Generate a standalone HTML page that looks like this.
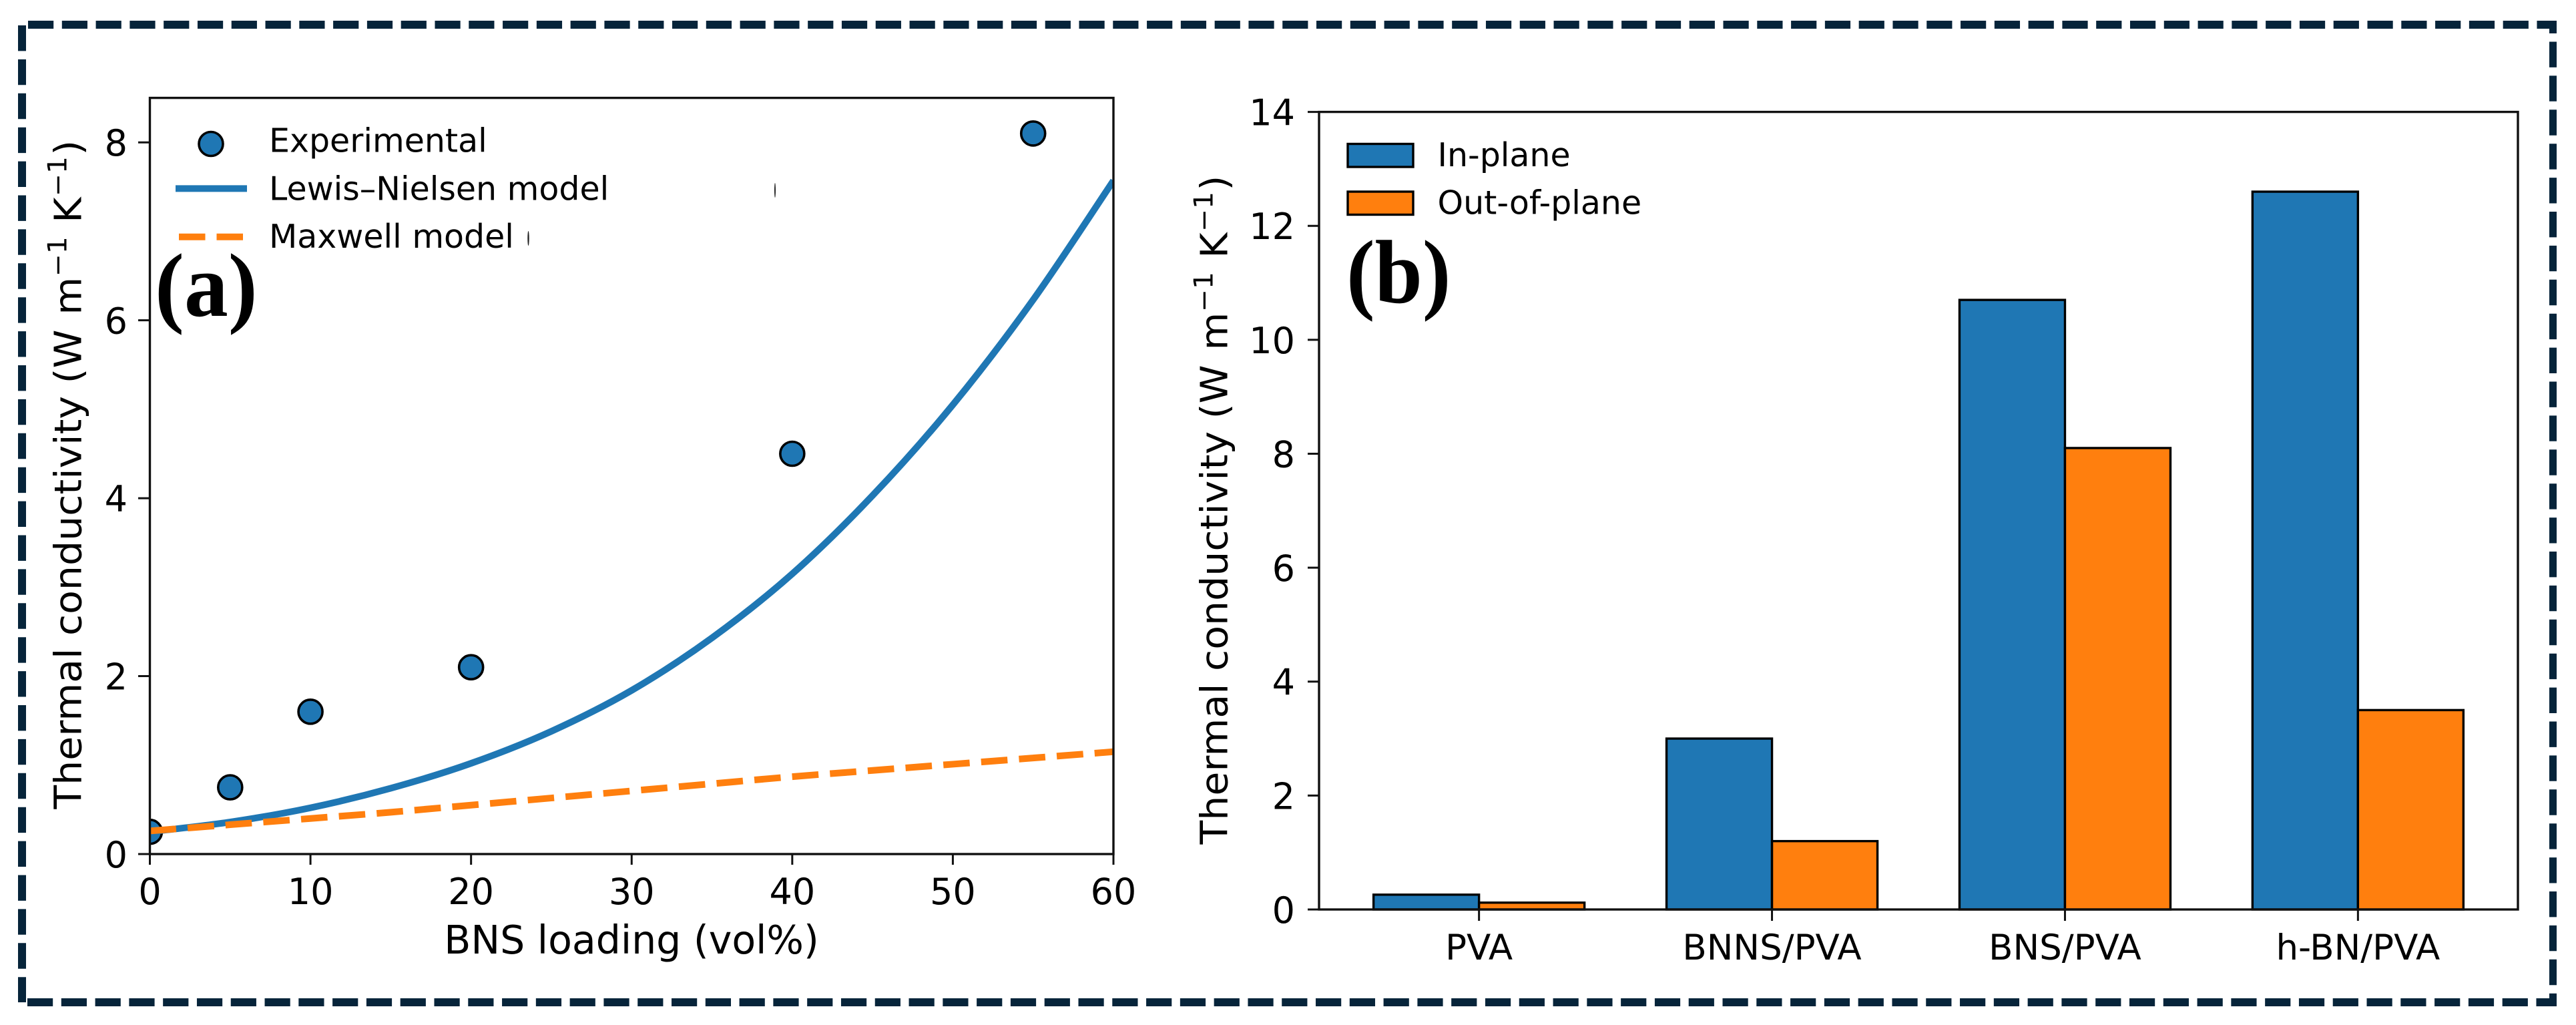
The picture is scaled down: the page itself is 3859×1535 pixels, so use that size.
<!DOCTYPE html>
<html>
<head>
<meta charset="utf-8">
<title>Thermal conductivity charts</title>
<style>
html,body{margin:0;padding:0;background:#fff;}
body{width:3859px;height:1535px;overflow:hidden;}
svg{display:block;}
text{font-family:"DejaVu Sans","Liberation Sans",sans-serif;fill:#000;}
text.panel{font-family:"Liberation Serif","Times New Roman",serif;font-weight:bold;font-size:128px;}
</style>
</head>
<body>
<svg id="root" xmlns="http://www.w3.org/2000/svg" width="3859" height="1535" viewBox="0 0 3859 1535">
  <rect x="0" y="0" width="3859" height="1535" fill="#ffffff"/>
  <g stroke="#06243a" fill="none" stroke-width="12">
    <line x1="42" y1="37" x2="3830" y2="37" stroke-dasharray="38.2 12.59"/>
    <line x1="41" y1="1501" x2="3830" y2="1501" stroke-dasharray="38.2 12.59"/>
    <line x1="33" y1="38" x2="33" y2="1501" stroke-dasharray="38.4 12.5"/>
    <line x1="3824.5" y1="31" x2="3824.5" y2="1507" stroke-width="11" stroke-dasharray="38.4 12.5" stroke-dashoffset="19.4"/>
    <line x1="3824.5" y1="1489" x2="3824.5" y2="1507" stroke-width="11"/>
  </g>
  <defs>
    <clipPath id="clip-a"><rect x="224.5" y="146.6" width="1443.5" height="1132.4"/></clipPath>
  </defs>
  <g id="chart-a"></g>
  <g id="chart-b"></g>

  <text class="panel" transform="translate(232,473) scale(1.03,1.055)">(a)</text>
  <text class="panel" transform="translate(2017,453) scale(1.0,1.055)">(b)</text>

  <text x="946" y="1428" font-size="58.5" text-anchor="middle">BNS loading (vol%)</text>

  <text transform="translate(121.7,1211.6) rotate(-90) scale(1.045,1)" font-size="56">Thermal conductivity (W<tspan x="708">m</tspan><tspan x="763" y="-22" font-size="39">−1</tspan><tspan x="840" y="0">K</tspan><tspan x="878" y="-22" font-size="39">−1</tspan><tspan x="936.8" y="0">)</tspan></text>
  <text transform="translate(1838.6,1264.5) rotate(-90) scale(1.045,1)" font-size="56">Thermal conductivity (W<tspan x="708">m</tspan><tspan x="763" y="-22" font-size="39">−1</tspan><tspan x="840" y="0">K</tspan><tspan x="878" y="-22" font-size="39">−1</tspan><tspan x="936.8" y="0">)</tspan></text>

  <g>
    <g>
      <circle cx="316" cy="215.5" r="18" fill="#1f77b4" stroke="#000" stroke-width="3.6"/>
      <text x="403" y="227.7" font-size="49">Experimental</text>
    </g>
    <g>
      <line x1="263" y1="282.4" x2="370" y2="282.4" stroke="#1f77b4" stroke-width="10"/>
      <text x="403" y="299.6" font-size="49">Lewis–Nielsen model</text>
    </g>
    <g>
      <line x1="268" y1="354.8" x2="364" y2="354.8" stroke="#ff7f0e" stroke-width="10" stroke-dasharray="39.5 17"/>
      <text x="403" y="371" font-size="49">Maxwell model</text>
    </g>
    <ellipse cx="791.5" cy="357" rx="1.2" ry="11" fill="#222"/>
    <ellipse cx="1161" cy="285" rx="1" ry="11" fill="#222"/>
  </g>

  <g>
    <g>
      <rect x="2019" y="215.5" width="98" height="34.5" fill="#1f77b4" stroke="#000" stroke-width="3.4"/>
      <text x="2153.5" y="248.8" font-size="49">In-plane</text>
    </g>
    <g>
      <rect x="2019" y="287" width="98" height="34.5" fill="#ff7f0e" stroke="#000" stroke-width="3.4"/>
      <text x="2153.5" y="320.7" font-size="49">Out-of-plane</text>
    </g>
  </g>
</svg>
<script>
// Panel (a) data
var xTicksA = [0, 10, 20, 30, 40, 50, 60];
var yTicksA = [0, 2, 4, 6, 8];
var expLoading = [0, 5, 10, 20, 40, 55];
var expConductivity = [0.25, 0.75, 1.6, 2.1, 4.5, 8.1];
var modelLoading = [0, 5, 10, 15, 20, 25, 30, 35, 40, 45, 50, 55, 60];
var lewisNielsen = [0.25, 0.36, 0.52, 0.74, 1.02, 1.38, 1.84, 2.43, 3.15, 4.03, 5.05, 6.23, 7.57];
var maxwell = [0.26, 0.33, 0.40, 0.47, 0.55, 0.63, 0.71, 0.79, 0.87, 0.94, 1.01, 1.08, 1.15];

// Panel (b) data
var categories = ['PVA', 'BNNS/PVA', 'BNS/PVA', 'h-BN/PVA'];
var inPlane = [0.26, 3.0, 10.7, 12.6];
var outOfPlane = [0.12, 1.2, 8.1, 3.5];
var yTicksB = [0, 2, 4, 6, 8, 10, 12, 14];

var SVGNS = 'http://www.w3.org/2000/svg';
function mk(parent, tag, attrs) {
  var el = document.createElementNS(SVGNS, tag);
  for (var k in attrs) { el.setAttribute(k, attrs[k]); }
  parent.appendChild(el);
  return el;
}

// Axis functions
function xA(v) { return 224.5 + (v - 0) / 60 * 1443.5; }
function yA(v) { return 1279 - v / 8.5 * 1132.4; }
function xB(v) { return 1976 + (v + 0.546) / 4.092 * 1796; }
function yB(v) { return 1362 - v / 14 * 1194.4; }

function smoothPath(xs, ys) {
  var d = 'M' + xs[0].toFixed(2) + ' ' + ys[0].toFixed(2);
  for (var i = 0; i < xs.length - 1; i++) {
    var i0 = Math.max(i - 1, 0), i3 = Math.min(i + 2, xs.length - 1);
    var c1x = xs[i] + (xs[i + 1] - xs[i0]) / 6, c1y = ys[i] + (ys[i + 1] - ys[i0]) / 6;
    var c2x = xs[i + 1] - (xs[i3] - xs[i]) / 6, c2y = ys[i + 1] - (ys[i3] - ys[i]) / 6;
    d += 'C' + c1x.toFixed(2) + ' ' + c1y.toFixed(2) + ' ' + c2x.toFixed(2) + ' ' + c2y.toFixed(2) + ' ' + xs[i + 1].toFixed(2) + ' ' + ys[i + 1].toFixed(2);
  }
  return d;
}

// ---------- Panel A ----------
var gA = document.getElementById('chart-a');
var plotA = mk(gA, 'g', {'clip-path': 'url(#clip-a)'});



expLoading.forEach(function (x, i) {
  var c = mk(plotA, 'circle', {cx: xA(x), cy: yA(expConductivity[i]), r: 18, fill: '#1f77b4', stroke: '#000', 'stroke-width': 3.6});
  
  
});

var lnPath = mk(plotA, 'path', {d: smoothPath(modelLoading.map(xA), lewisNielsen.map(yA)), fill: 'none', stroke: '#1f77b4', 'stroke-width': 10});



var mxPath = mk(plotA, 'path', {d: smoothPath(modelLoading.map(xA), maxwell.map(yA)), fill: 'none', stroke: '#ff7f0e', 'stroke-width': 10, 'stroke-dasharray': '39.6 17.2'});



var frameA = mk(gA, 'rect', {x: 224.5, y: 146.6, width: 1443.5, height: 1132.4, fill: 'none', stroke: '#111', 'stroke-width': 3.4});



xTicksA.forEach(function (v) {
  var t = mk(gA, 'line', {x1: xA(v), x2: xA(v), y1: 1279, y2: 1295, stroke: '#111', 'stroke-width': 3});
  
  
  var l = mk(gA, 'text', {x: xA(v), y: 1354, 'font-size': 54, 'text-anchor': 'middle'});
  l.textContent = v;
  
  
});
yTicksA.forEach(function (v) {
  var t = mk(gA, 'line', {x1: 207, x2: 224.5, y1: yA(v), y2: yA(v), stroke: '#111', 'stroke-width': 3});
  
  
  var l = mk(gA, 'text', {x: 191, y: yA(v) + 20, 'font-size': 54, 'text-anchor': 'end'});
  l.textContent = v;
  
  
});

// ---------- Panel B ----------
var gB = document.getElementById('chart-b');
var barWidth = 0.36;
categories.forEach(function (c, i) {
  var r1 = mk(gB, 'rect', {x: xB(i - barWidth), y: yB(inPlane[i]), width: xB(i) - xB(i - barWidth), height: yB(0) - yB(inPlane[i]), fill: '#1f77b4', stroke: '#000', 'stroke-width': 3.4});
  
  
  var r2 = mk(gB, 'rect', {x: xB(i), y: yB(outOfPlane[i]), width: xB(i + barWidth) - xB(i), height: yB(0) - yB(outOfPlane[i]), fill: '#ff7f0e', stroke: '#000', 'stroke-width': 3.4});
  
  
  var t = mk(gB, 'line', {x1: xB(i), x2: xB(i), y1: 1362, y2: 1379, stroke: '#111', 'stroke-width': 3});
  
  
  var l = mk(gB, 'text', {x: xB(i), y: 1437, 'font-size': 53, 'text-anchor': 'middle'});
  l.textContent = c;
  
  
});

var frameB = mk(gB, 'rect', {x: 1976, y: 167.6, width: 1796, height: 1194.4, fill: 'none', stroke: '#111', 'stroke-width': 3.4});



yTicksB.forEach(function (v) {
  var t = mk(gB, 'line', {x1: 1959, x2: 1976, y1: yB(v), y2: yB(v), stroke: '#111', 'stroke-width': 3});
  
  
  var l = mk(gB, 'text', {x: 1940, y: yB(v) + 20, 'font-size': 54, 'text-anchor': 'end'});
  l.textContent = v;
  
  
});
</script>
</body>
</html>
